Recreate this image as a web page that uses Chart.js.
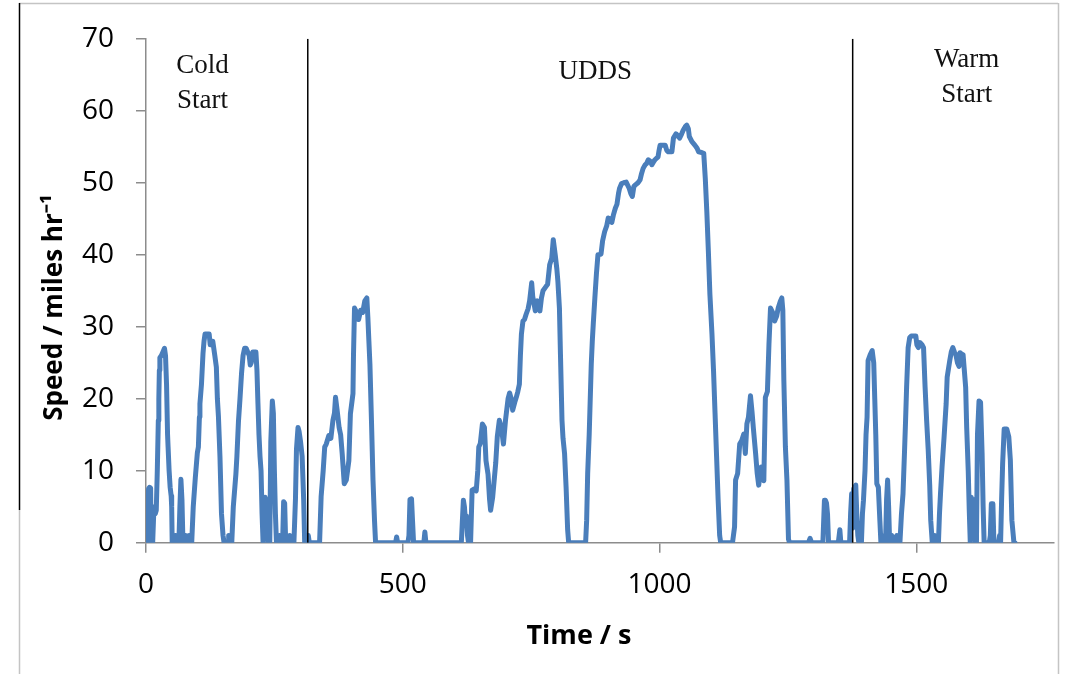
<!DOCTYPE html>
<html>
<head>
<meta charset="utf-8">
<script src="https://cdn.jsdelivr.net/npm/chart.js@4.4.1/dist/chart.umd.min.js"></script>
<style>
html,body{margin:0;padding:0;background:#fff;}
#wrap{position:relative;width:1069px;height:674px;}
</style>
</head>
<body>
<div id="wrap"><canvas id="c"></canvas></div>
<script>
// Time (s)
const times = [
  0,1,2,3,5,7,9,10,12,13,
  15,18,20,22,24,25,26,27,30,33,
  36,38,40,42,43,45,47,49,50,51,
  56,57,58,64,66,68,70,72,76,77,
  78,83,84,86,89,92,96,100,102,104,
  105,108,111,113,115,119,123,125,127,130,
  134,137,139,141,144,147,150,152,160,161,
  162,167,170,173,175,177,180,183,186,189,
  192,195,198,201,203,205,208,211,214,216,
  218,220,222,224,226,228,230,232,234,236,
  238,241,243,246,248,250,252,254,258,260,
  262,266,268,270,272,278,280,282,288,291,
  293,296,298,301,304,307,309,315,316,318,
  338,341,345,348,351,356,360,364,367,369,
  372,376,379,382,386,390,395,398,403,404,
  406,410,414,418,422,426,430,432,434,436,
  439,442,445,447,486,488,490,510,512,514,
  517,519,521,541,543,545,614,616,618,620,
  622,624,626,628,632,635,640,643,646,648,
  651,655,659,662,666,669,671,675,681,684,
  688,692,696,700,705,708,711,714,718,721,
  724,727,729,731,734,737,740,744,747,751,
  753,756,758,762,767,770,773,778,782,786,
  790,793,795,797,800,802,805,807,810,812,
  815,818,821,823,856,858,860,863,867,869,
  871,874,877,880,882,886,889,893,897,900,
  904,907,910,914,917,920,922,926,930,935,
  941,944,947,950,953,958,962,965,968,972,
  975,978,982,985,989,991,997,999,1001,1006,
  1011,1014,1017,1024,1027,1032,1036,1039,1043,1046,
  1050,1053,1056,1058,1063,1069,1073,1076,1082,1086,
  1089,1092,1095,1098,1102,1105,1108,1111,1114,1117,
  1119,1142,1146,1148,1152,1156,1160,1164,1167,1170,
  1173,1177,1180,1183,1187,1190,1193,1198,1203,1206,
  1210,1213,1216,1220,1224,1228,1231,1235,1238,1240,
  1242,1245,1248,1251,1253,1290,1293,1296,1318,1321,
  1323,1325,1327,1329,1348,1351,1353,1370,1372,1374,
  1376,1378,1380,1382,1384,1386,1388,1393,1395,1397,
  1400,1402,1404,1406,1410,1414,1417,1419,1421,1423,
  1426,1429,1431,1433,1435,1440,1442,1444,1446,1448,
  1452,1454,1462,1464,1468,1471,1474,1477,1479,1481,
  1484,1487,1490,1495,1499,1501,1504,1507,1511,1514,
  1517,1520,1523,1526,1528,1531,1536,1538,1543,1545,
  1547,1550,1554,1558,1560,1565,1568,1571,1574,1577,
  1580,1583,1585,1588,1591,1593,1596,1598,1601,1603,
  1605,1607,1609,1611,1613,1615,1617,1619,1622,1625,
  1628,1630,1632,1642,1644,1646,1649,1651,1660,1662,
  1664,1666,1668,1671,1676,1680,1683,1686,1690,1692
];
// Speed (miles/hr)
const speeds = [
  0,6.5,7,1,7.5,7.7,7.6,0,5,0,
  4,4,4.5,10,17,20,24,25.7,26,26.5,
  27,26,22,15,13.3,10,7.7,6.5,5,0,
  0,1,0,0,5,8.8,6,0,0,1,
  0,0,1,0,0,5,9,12.5,13.3,17.5,
  19.3,22,26.3,28,29,29,29,27.5,28,28,
  26,24.4,20,17.6,12,4,1,0,0,1,
  0,0,5,7.7,9.5,12,16.8,20,23.5,26,
  27,27,26.5,26,24.7,25,26.5,26.5,26.5,24,
  19.3,15,12,10,4,0,5,6.3,2,6,
  0,0,14,19.7,18,10,4,0,0,1,
  0,0,5.7,5.5,0,0,1,0,0,6,
  13,16,15.5,14,12,6,0,0,1,0,
  0,6.4,10,13.3,13.7,14.9,14.5,17,18,20.2,
  18.5,16,15,12.4,8.2,8.7,11.4,17.9,20.7,26,
  32.6,32,31,32.3,32,33.6,34,31.3,28,24.8,
  17,8.7,3,0,0,0.8,0,0,1,6,
  6.1,3,0,0,1.5,0,0,3,5.9,5,
  3,3.7,1,0,0,7.3,7.5,7.2,10,13.3,
  13.8,16.5,16,11.4,9.5,6,4.5,6.3,11.1,14.7,
  17,16,13.7,17,20,20.8,20,18.4,19.5,20.2,
  21,22,26,29,30.8,31,31.7,32.5,33.6,36.1,
  34.2,33,32.2,33.6,32.2,34,35,35.5,35.9,38.6,
  39.5,42.1,41,39.9,38,36.3,32.6,26.2,17,14.5,
  12.4,7.7,1.8,0,0,3.1,9.6,15.1,24.8,28,
  30.5,34,37.3,40,40,40.1,41.9,43.2,44,45.1,
  45,44.5,45.5,46.5,47,48.5,49.2,49.9,50,50.1,
  49.2,48.5,48.1,49.5,49.7,50,50.4,51.3,52,52.5,
  52.7,53.2,53,52.5,53,53.2,53.6,54.5,55.2,55.2,
  55.2,54.5,54.3,54.3,56.2,56.8,56.5,56.2,56.8,57.3,
  57.8,58,57.5,56.4,55.7,55.2,54.8,54.3,54.2,54.1,
  50.6,46,40.5,34.5,29,24,18,12,6,1,
  0,0,2.2,8.7,9.6,13.7,14.2,15.1,12.4,16.5,
  17.4,20.4,18.2,15.6,12.4,9.7,8,10.5,8.6,20.2,
  21,27.6,32.6,32,30.8,31.5,32.6,33.5,34,32.3,
  22.5,13.3,8.7,0.5,0,0,0.6,0,0,5.9,
  5.9,5.5,4,0,0,1.8,0,0,4.1,6.8,
  2,7.5,7.7,8,4,1,0,0,4,5.9,
  10,15,17.4,25.3,26.1,26.7,25,20,15,8.2,
  7.7,3,0,1,0,0,6,8.7,5,0,
  1,0,1,0,0,4,6.8,12.8,17,21.6,
  27.1,28.5,28.7,28.7,28.7,27.5,27.1,27.8,27.5,27.1,
  21.6,17,13,8,3.1,0,1,0,0,4,
  6.8,10.5,14.7,19.3,23,25.3,26.5,27.1,26.5,26.1,
  25,24.5,26.4,26.2,26.1,24.3,21.6,16,10,4.5,
  0,6.3,2,6,5.5,0,0,15,19.7,19.5,
  12.4,5,0,0,1,5.4,5.4,0,0,1,
  0,6,11,15.8,15.8,14.7,11.5,3.1,0,0
];
const xTickValues = [0, 500, 1000, 1500];
const yTickValues = [0, 10, 20, 30, 40, 50, 60, 70];
const phaseBoundaries = [315, 1376];
const phaseNames = [['Cold', 'Start'], ['UDDS'], ['Warm', 'Start']];
const phaseNameTimes = [110, 875, 1598];
const phaseNameSpeeds = [66.3, 65.4, 67.0];

const speedPoints = times.map((t, i) => ({x: t, y: speeds[i]}));
const boundarySets = phaseBoundaries.map(b => ({
  data: [{x: b, y: 0}, {x: b, y: 70}],
  borderColor: '#000000',
  borderWidth: 1.5,
  pointRadius: 0,
  fill: false
}));

const framePlugin = {
  id: 'frame',
  beforeDraw(chart) {
    const c = chart.ctx;
    c.save();
    c.fillStyle = '#ffffff';
    c.fillRect(0, 0, chart.width, chart.height);
    c.lineWidth = 1.5;
    c.strokeStyle = '#c4c4c4';
    c.beginPath();
    c.moveTo(19, 3.5); c.lineTo(1058, 3.5);
    c.moveTo(1058.5, 3); c.lineTo(1058.5, 674);
    c.moveTo(19.5, 510); c.lineTo(19.5, 674);
    c.stroke();
    c.strokeStyle = '#000000';
    c.beginPath();
    c.moveTo(19.5, 3); c.lineTo(19.5, 510);
    c.stroke();
    c.restore();
  }
};

const notesPlugin = {
  id: 'notes',
  afterDatasetsDraw(chart) {
    const c = chart.ctx;
    const xs = chart.scales.x, ys = chart.scales.y;
    c.save();
    c.font = '27px "Liberation Serif", "Times New Roman", serif';
    c.fillStyle = '#111111';
    c.textAlign = 'center';
    c.textBaseline = 'middle';
    phaseNames.forEach((lines, i) => {
      const px = xs.getPixelForValue(phaseNameTimes[i]);
      const py = ys.getPixelForValue(phaseNameSpeeds[i]);
      lines.forEach((ln, k) => c.fillText(ln, px, py + k * 35));
    });
    c.restore();
  }
};

new Chart(document.getElementById('c'), {
  type: 'line',
  data: {
    datasets: [
      ...boundarySets,
      {
        data: speedPoints,
        borderColor: '#4A7EBB',
        borderWidth: 5,
        pointRadius: 0,
        tension: 0,
        fill: false,
        borderJoinStyle: 'round',
        borderCapStyle: 'round'
      }
    ]
  },
  options: {
    responsive: true,
    maintainAspectRatio: false,
    animation: false,
    devicePixelRatio: 1,
    layout: {padding: {top: 36.7, right: 15, bottom: 0, left: 0}},
    plugins: {legend: {display: false}, tooltip: {enabled: false}},
    scales: {
      x: {
        type: 'linear',
        min: 0,
        max: 1768,
        afterBuildTicks: axis => { axis.ticks = xTickValues.map(v => ({value: v})); },
        afterFit: s => { s.height = 131.3; },
        border: {display: true, color: '#8c8c8c', width: 1.5},
        grid: {display: true, drawOnChartArea: false, drawTicks: true, tickLength: 10, color: '#8c8c8c', lineWidth: 1.5},
        ticks: {
          color: '#000000',
          padding: 16,
          maxRotation: 0,
          callback: v => String(v),
          font: {family: '"Open Sans", sans-serif', size: 28}
        },
        title: {
          display: true,
          text: 'Time / s      ',
          color: '#000000',
          font: {family: '"Open Sans", sans-serif', size: 27, weight: 'bold'},
          padding: {top: 0, bottom: 21}
        }
      },
      y: {
        min: 0,
        max: 70,
        afterBuildTicks: axis => { axis.ticks = yTickValues.map(v => ({value: v})); },
        afterFit: s => { s.width = 146; },
        border: {display: true, color: '#8c8c8c', width: 1.5},
        grid: {display: true, drawOnChartArea: false, drawTicks: true, tickLength: 10, color: '#8c8c8c', lineWidth: 1.5},
        ticks: {
          color: '#000000',
          padding: 22,
          callback: v => String(v),
          font: {family: '"Open Sans", sans-serif', size: 28}
        },
        title: {
          display: true,
          text: 'Speed / miles hr\u207B\u00B9     ',
          color: '#000000',
          font: {family: '"Open Sans", sans-serif', size: 26, weight: 'bold'},
          padding: {top: 39, bottom: 0}
        }
      }
    }
  },
  plugins: [framePlugin, notesPlugin]
});
</script>
</body>
</html>
